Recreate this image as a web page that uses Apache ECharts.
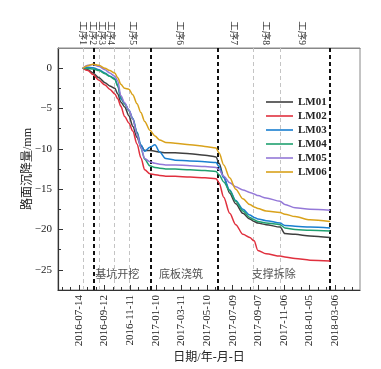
<!DOCTYPE html>
<html><head><meta charset="utf-8">
<script src="https://cdn.jsdelivr.net/npm/echarts@6/dist/echarts.min.js"></script>
<style>html,body{margin:0;padding:0;background:#fff}#c{width:381px;height:369px}</style>
</head><body><div id="c"></div>
<script>
// ---- data ----
const sampleDates = ['2016-07-23','2016-08-04','2016-08-16','2016-08-30','2016-09-13','2016-09-24','2016-10-06','2016-10-13','2016-10-20','2016-10-29','2016-11-08','2016-11-17','2016-11-27','2016-12-06','2016-12-15','2016-12-27','2017-01-08','2017-01-19','2017-02-02','2017-02-24','2017-03-31','2017-05-05','2017-05-31','2017-06-07','2017-06-18','2017-07-02','2017-07-16','2017-08-02','2017-08-18','2017-08-28','2017-09-06','2017-09-25','2017-10-28','2017-11-08','2017-12-02','2018-01-06','2018-02-22'];
const LM01 = [0,-0.2,-0.6,-1.2,-1.8,-2.2,-2.5,-3.2,-4.2,-4.8,-5.9,-7.2,-8.6,-9.6,-10.2,-10.2,-10.3,-10.4,-10.5,-10.5,-10.6,-10.8,-11.0,-11.8,-13.5,-15.5,-16.8,-18.0,-18.7,-19.0,-19.2,-19.4,-19.7,-20.5,-20.6,-20.8,-21.0];
const LM02 = [0,-0.3,-0.8,-1.5,-2.1,-2.6,-3.2,-3.8,-4.7,-6.0,-6.8,-7.8,-9.4,-11.1,-12.6,-13.1,-13.2,-13.3,-13.4,-13.4,-13.5,-13.6,-13.7,-14.2,-16.0,-18.0,-19.4,-20.6,-21.0,-21.4,-22.6,-23.0,-23.3,-23.4,-23.6,-23.8,-23.9];
const LM03 = [0,0.1,0.05,-0.2,-0.6,-1.0,-1.3,-2.2,-3.8,-4.4,-5.2,-6.2,-7.9,-9.5,-10.3,-9.8,-9.5,-10.4,-11.2,-11.4,-11.5,-11.6,-11.7,-12.2,-13.6,-15.1,-16.4,-17.5,-18.2,-18.5,-18.7,-18.9,-19.2,-19.5,-19.6,-19.7,-19.8];
const LM04 = [0,-0.05,-0.1,-0.3,-0.7,-1.0,-1.4,-2.2,-3.6,-4.4,-5.3,-6.3,-8.0,-9.9,-11.3,-12.1,-12.3,-12.4,-12.5,-12.5,-12.6,-12.7,-12.8,-13.2,-14.1,-15.2,-16.5,-17.7,-18.5,-18.8,-19.0,-19.2,-19.4,-19.8,-20.0,-20.1,-20.2];
const LM05 = [0,0.35,0.45,0.2,-0.2,-0.6,-1.0,-1.6,-3.4,-4.3,-5.2,-6.3,-8.2,-9.8,-11.2,-11.6,-11.8,-11.9,-12.0,-12.0,-12.1,-12.2,-12.3,-12.6,-13.4,-14.2,-14.7,-15.1,-15.4,-15.6,-15.8,-16.1,-16.5,-16.9,-17.3,-17.5,-17.6];
const LM06 = [0,0.3,0.5,0.35,0.0,-0.3,-0.6,-1.2,-2.0,-2.5,-2.6,-3.3,-4.4,-5.5,-6.6,-7.7,-8.4,-8.9,-9.2,-9.3,-9.5,-9.7,-9.9,-10.5,-12.0,-13.6,-15.0,-16.2,-16.9,-17.2,-17.4,-17.7,-17.9,-18.1,-18.4,-18.8,-19.0];
const seriesNames = ['LM01','LM02','LM03','LM04','LM05','LM06'];
const seriesValues = [LM01, LM02, LM03, LM04, LM05, LM06];
const seriesColors = ['#3f3f3f','#e0303e','#1a7fd0','#20a070','#9478d8','#d9a21b'];

const xTickLabels = ['2016-07-14','2016-09-12','2016-11-11','2017-01-10','2017-03-11','2017-05-10','2017-07-09','2017-09-07','2017-11-06','2018-01-05','2018-03-06'];
const yTickLabels = [0,-5,-10,-15,-20,-25];
const stageNames = ['工序1','工序2','工序3','工序4','工序5','工序6','工序7','工序8','工序9'];
const stageDates = ['2016-07-23','2016-08-14','2016-09-05','2016-09-27','2016-11-16','2017-03-07','2017-07-10','2017-09-23','2017-12-18'];
const phaseNames = ['基坑开挖','底板浇筑','支撑拆除'];
const phaseDates = ['2016-10-12','2017-03-10','2017-10-13'];
const phaseLevel = -25.7;
const boundaryDates = ['2016-08-17','2016-12-28','2017-06-04','2018-02-22'];
const stepDates = ['2016-07-23','2016-08-30','2016-10-04','2016-11-08','2017-08-26','2017-10-29'];
const xRange = ['2016-05-26','2018-05-03'];
const yRange = [-27.5, 2.5];

// ---- helpers ----
const BASE = Date.UTC(2016,6,14);
function toDay(s){const p=s.split('-').map(Number);return Math.round((Date.UTC(p[0],p[1]-1,p[2])-BASE)/86400000);}
function toDate(v){return new Date(BASE+Math.round(v)*86400000).toISOString().slice(0,10);}
const SERIF = "'Liberation Serif','Noto Sans CJK SC',serif";
const X_MIN = toDay(xRange[0]), X_MAX = toDay(xRange[1]);
const xMajor = xTickLabels.map(toDay);
const xMinor = [];
for (let v = -40; v <= 640; v += 20) if (v % 60 !== 0) xMinor.push(v);
const yMinor = [];
for (let v = -22.5; v <= -2.5; v += 5) yMinor.push(v);
const stageDays = stageDates.map(toDay);
const sampleDays = sampleDates.map(toDay);

const series = [];
series.push({type:'line', data:[], silent:true, z:1,
  markLine:{silent:true, symbol:['none','none'], label:{show:false}, animation:false,
    lineStyle:{color:'#c4c4c4', width:1, type:[4,3]},
    data: stepDates.map(d=>({xAxis:toDay(d)}))}});
series.push({type:'line', data:[], silent:true, z:2,
  markLine:{silent:true, symbol:['none','none'], label:{show:false}, animation:false,
    lineStyle:{color:'#111', width:2, type:[4,3]},
    data: boundaryDates.map(d=>({xAxis:toDay(d)}))}});
seriesNames.forEach((n,k)=>{
  series.push({name:n, type:'line', symbol:'none', showSymbol:false, smooth:0.3, smoothMonotone:'x', z:5,
    lineStyle:{width:1.5, color:seriesColors[k]}, itemStyle:{color:seriesColors[k]},
    data: sampleDays.map((d,i)=>[d, seriesValues[k][i]])});
});
series.push({type:'scatter', symbolSize:0, silent:true, z:6,
  data: phaseDates.map((d,i)=>({value:[toDay(d), phaseLevel], name:phaseNames[i]})),
  label:{show:true, position:'inside', formatter:'{b}', fontFamily:SERIF, fontSize:11, color:'#222'}});

const chart = echarts.init(document.getElementById('c'));
chart.setOption({
  animation:false,
  backgroundColor:'#fff',
  grid:{left:58, right:21, top:48, bottom:78, show:true, borderColor:'#888', borderWidth:1},
  legend:{data:seriesNames, orient:'vertical', left:261, top:90, itemWidth:27, itemHeight:1.6, itemGap:0,
    icon:'rect',
    textStyle:{fontFamily:SERIF, fontSize:11, fontWeight:'bold', color:'#222', lineHeight:14}},
  xAxis:[
    {type:'value', min:X_MIN, max:X_MAX, position:'bottom',
     axisLine:{onZero:false, lineStyle:{color:'#333', width:1.2}},
     axisTick:{inside:true, length:5, customValues:xMajor, lineStyle:{color:'#333'}},
     axisLabel:{customValues:xMajor, rotate:90, formatter:v=>toDate(v), fontFamily:SERIF, fontSize:11, color:'#222', margin:5},
     splitLine:{show:false},
     name:'日期/年-月-日', nameLocation:'middle', nameGap:62, nameMoveOverlap:false,
     nameTextStyle:{fontFamily:SERIF, fontSize:12, color:'#222'}},
    {type:'value', min:X_MIN, max:X_MAX, position:'bottom',
     axisLine:{show:false, onZero:false},
     axisTick:{inside:true, length:3, customValues:xMinor, lineStyle:{color:'#333'}},
     axisLabel:{show:false}, splitLine:{show:false}},
    {type:'value', min:X_MIN, max:X_MAX, position:'top',
     axisLine:{onZero:false, lineStyle:{color:'#888'}},
     axisTick:{show:false},
     axisLabel:{customValues:stageDays, rotate:90, formatter:v=>stageNames[stageDays.indexOf(v)],
       fontFamily:SERIF, fontSize:9.5, color:'#333', margin:3},
     splitLine:{show:false}}
  ],
  yAxis:[
    {type:'value', min:yRange[0], max:yRange[1], position:'left',
     axisLine:{onZero:false, lineStyle:{color:'#333', width:1.2}},
     axisTick:{inside:true, length:5, customValues:yTickLabels, lineStyle:{color:'#333'}},
     axisLabel:{customValues:yTickLabels, formatter:v=>String(v).replace('-','\u2212'), fontFamily:SERIF, fontSize:11, color:'#222', margin:6},
     splitLine:{show:false},
     name:'路面沉降量/mm', nameLocation:'middle', nameGap:24, nameRotate:90, nameMoveOverlap:false,
     nameTextStyle:{fontFamily:SERIF, fontSize:12, color:'#222'}},
    {type:'value', min:yRange[0], max:yRange[1], position:'left',
     axisLine:{show:false, onZero:false},
     axisTick:{inside:true, length:3, customValues:yMinor, lineStyle:{color:'#333'}},
     axisLabel:{show:false}, splitLine:{show:false}}
  ],
  series
});
</script></body></html>
